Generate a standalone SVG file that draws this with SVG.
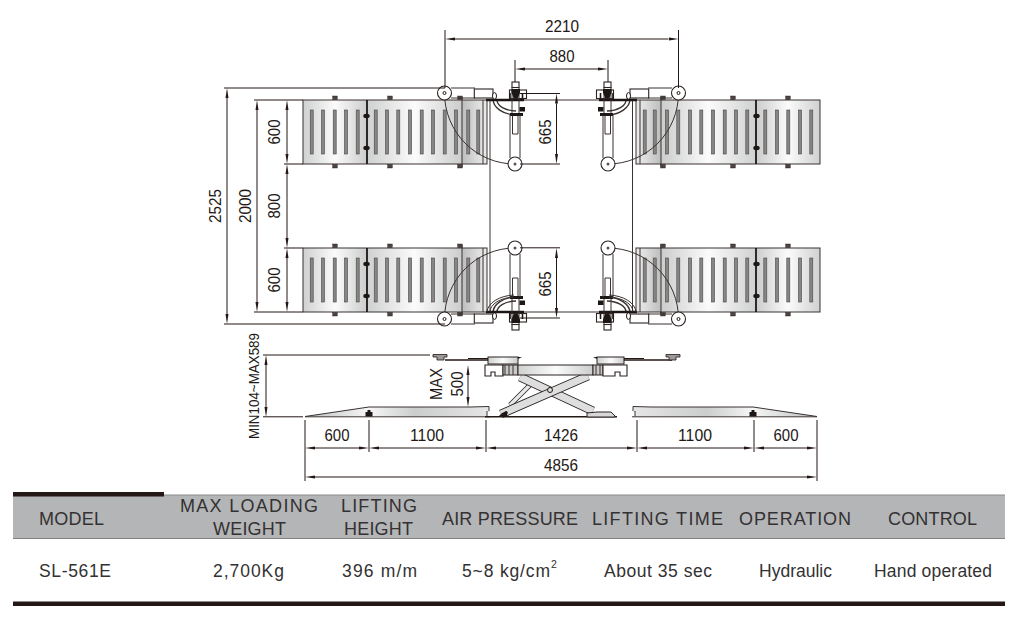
<svg xmlns="http://www.w3.org/2000/svg" width="1016" height="618" viewBox="0 0 1016 618">
<style>
.l{fill:none;stroke:#3a3230;stroke-width:1}
.d{fill:none;stroke:#231815;stroke-width:1}
.dim{fill:none;stroke:#231815;stroke-width:1;marker-start:url(#a);marker-end:url(#a)}
.ext{fill:none;stroke:#231815;stroke-width:1}
.slot{fill:#868686;stroke:#4a4442;stroke-width:.6}
.bolt{fill:#4a4442;stroke:#231815;stroke-width:.4}
.w{fill:#fff;stroke:#2a2422;stroke-width:1.1}
.k{fill:#1c1614;stroke:none}
text{font-family:"Liberation Sans",Arial,sans-serif;fill:#333132}
.n{font-size:17px;text-anchor:middle;fill:#231815}
.h{font-size:18px}
.b{font-size:17.5px}
.arm-o{fill:none;stroke:#2a2422;stroke-width:9}
.arm-i{fill:none;stroke:#dedede;stroke-width:7.2}
.cyl-o{fill:none;stroke:#2a2422;stroke-width:5}
.cyl-i{fill:none;stroke:#e8e8e8;stroke-width:3.4}
</style>
<defs>
<marker id="a" viewBox="0 0 10 4" refX="0" refY="2" markerWidth="10" markerHeight="4" markerUnits="userSpaceOnUse" orient="auto-start-reverse"><path d="M10 2L0 0.5V3.500Z" fill="#231815"/></marker>
<linearGradient id="g1"><stop offset="0" stop-color="#cfd0d0"/><stop offset=".5" stop-color="#fbfbfb"/><stop offset="1" stop-color="#cbcccc"/></linearGradient>
<linearGradient id="g2"><stop offset="0" stop-color="#bcbdbd"/><stop offset=".6" stop-color="#dcdcdc"/><stop offset="1" stop-color="#ececec"/></linearGradient>
<linearGradient id="g3"><stop offset="0" stop-color="#bfc0c0"/><stop offset=".35" stop-color="#f6f6f6"/><stop offset=".6" stop-color="#cbcccc"/><stop offset="1" stop-color="#e6e6e6"/></linearGradient>
<g id="platform">
<rect x="303" y="100" width="64" height="64" fill="url(#g1)"/>
<rect x="367" y="100" width="95" height="64" fill="url(#g1)"/>
<rect x="462" y="100" width="25" height="64" fill="url(#g2)"/>
<rect x="303" y="100" width="184" height="64" class="l"/>
<path class="l" d="M462 97V167M483 100V164"/>
<path d="M367 100V164" stroke="#1c1614" stroke-width="1.8" fill="none"/>
<ellipse cx="366.500" cy="116" rx="3.200" ry="2.200" class="k"/><ellipse cx="366.500" cy="148" rx="3.200" ry="2.200" class="k"/>
<g class="slot">
<rect x="310.200" y="110" width="3" height="44"/><rect x="321.500" y="110" width="3" height="44"/><rect x="333.200" y="110" width="3" height="44"/><rect x="344.500" y="110" width="3" height="44"/><rect x="356.200" y="110" width="3" height="44"/>
<rect x="374.200" y="110" width="3" height="44"/><rect x="385.500" y="110" width="3" height="44"/><rect x="396.800" y="110" width="3" height="44"/><rect x="408.500" y="110" width="3" height="44"/><rect x="420.200" y="110" width="3" height="44"/><rect x="431.500" y="110" width="3" height="44"/><rect x="443.200" y="110" width="3" height="44"/><rect x="454.500" y="110" width="3" height="44"/><rect x="466.800" y="110" width="3" height="44"/><rect x="476.800" y="110" width="3" height="44"/>
</g>
<g class="bolt">
<rect x="332.700" y="96" width="4.600" height="3.600"/><rect x="387.700" y="96" width="4.600" height="3.600"/><rect x="457.700" y="96" width="4.600" height="3.600"/>
<rect x="332.700" y="164.400" width="4.600" height="3.600"/><rect x="387.700" y="164.400" width="4.600" height="3.600"/><rect x="457.700" y="164.400" width="4.600" height="3.600"/>
</g>
</g>
<g id="head">
<path class="l" d="M451 88H475M451 98H475"/>
<rect x="474.300" y="89" width="18.700" height="9" class="w"/>
<path class="l" d="M444.500 93A70.500 71 0 0 0 515 164"/>
<circle cx="444.500" cy="93" r="7" class="w"/><circle cx="444.500" cy="93" r="1.500" fill="#fff" stroke="#231815"/>
<path class="l" style="stroke-width:1.400" d="M493 99A24 16 0 0 0 516 115M497 100A20 11 0 0 0 516 111"/>
<ellipse cx="494.500" cy="96" rx="2" ry="3.400" fill="#fff" stroke="#231815"/>
<path d="M486 100H524" stroke="#1c1614" stroke-width="2.600" fill="none"/>
<rect x="509.500" y="90" width="17" height="8.500" class="w"/>
<rect x="512" y="82" width="7" height="5.500" class="w"/>
<path class="l" d="M512 87V113M519 87V113"/>
<path class="k" d="M511.500 89H520V92.500L518 98H513.500L511.500 92.500Z"/>
<path d="M510 93V98M522.500 93V98" stroke="#1c1614" stroke-width="1.600" fill="none"/>
<path class="k" d="M510 113H523V116H510Z"/><rect x="519.500" y="107" width="5.500" height="4.500" class="k"/>
<path class="l" d="M510 115V158M520 115V158"/>
<path class="l" d="M512.500 116V134H518V116"/>
<circle cx="515" cy="164" r="7" class="w"/><circle cx="515" cy="164" r="1.500" fill="#555"/>
</g>
<g id="head-extra">
<path class="l" d="M490 100A26 15 0 0 0 514 115M487 100A29 18 0 0 0 514 117"/>
</g>
<g id="ramp">
<path d="M305 416.500L369 407H489V412H487V416.500Z" fill="url(#g3)"/>
<path class="l" d="M305 416.500L369 407H470M470 407L489 406.500V411M487 411V416.500M305 416.800H490"/>
<rect x="365.500" y="412" width="7" height="4.500" class="k"/><rect x="367.500" y="410" width="3" height="3" class="k"/>
</g>
</defs>

<g id="platform-top-left"><use href="#platform"/></g>
<g id="platform-top-right"><use href="#platform" transform="matrix(-1 0 0 1 1123 0)"/></g>
<g id="platform-bottom-left"><use href="#platform" transform="matrix(1 0 0 -1 0 412)"/></g>
<g id="platform-bottom-right"><use href="#platform" transform="matrix(-1 0 0 -1 1123 412)"/></g>

<g id="frame"><path class="l" d="M490 100H632M490 312H632M490 100V312M632.500 100V312"/></g>

<g id="arm-top-left"><use href="#head"/></g>
<g id="arm-top-right"><use href="#head" transform="matrix(-1 0 0 1 1123 0)"/></g>
<g id="arm-bottom-left"><use href="#head" transform="matrix(1 0 0 -1 0 412)"/><use href="#head-extra" transform="matrix(1 0 0 -1 0 412)"/></g>
<g id="arm-bottom-right"><use href="#head" transform="matrix(-1 0 0 -1 1123 412)"/><use href="#head-extra" transform="matrix(-1 0 0 -1 1123 412)"/></g>

<g id="ramp-left"><use href="#ramp"/></g>
<g id="ramp-right"><use href="#ramp" transform="matrix(-1 0 0 1 1122 0)"/></g>

<g id="lift-side">
<path class="d" style="stroke-width:1.400" d="M485 416.800H617"/>
<path class="cyl-o" d="M510 405L530 385"/><path class="cyl-i" d="M510 405L530 385"/>
<path class="arm-o" d="M520 377L593 411"/><path class="arm-i" d="M520 377L593 411"/>
<path class="arm-o" d="M501 414L588 376"/><path class="arm-i" d="M501 414L588 376"/>
<circle cx="550" cy="390" r="2.500" fill="#ddd" stroke="#231815"/>
<path d="M587 417V413L597 412H611L615 416V417Z" fill="#d8d8d8" stroke="#2a2422"/>
<circle cx="506" cy="413" r="1.800" class="k"/><path class="k" d="M498 417L502 413L507 411V417Z"/>
<path class="w" d="M485 365H503V376H495V372H491V376H485Z"/>
<rect x="503" y="365" width="15" height="10" fill="#c9c9c9" stroke="#2a2422"/>
<path class="l" d="M505 365V375M509 365V375M513 365V375"/>
<rect x="518" y="365" width="75" height="10" fill="url(#g1)" stroke="#2a2422"/>
<rect x="593" y="365" width="10" height="10" fill="#c9c9c9" stroke="#2a2422"/>
<path class="l" d="M596 365V375M600 365V375"/>
<path class="w" d="M603 365H627V376H620V372H615V376H603Z"/>
<rect x="488" y="357" width="30" height="7" fill="url(#g1)" stroke="#2a2422"/>
<rect x="597" y="357" width="27" height="7" fill="url(#g1)" stroke="#2a2422"/>
<path d="M518 357H522L518 359Z" class="k"/><path d="M597 357H593L597 359Z" class="k"/>
<path class="d" style="stroke-width:1.400" d="M445 360H488M624 360H672"/>
<path d="M468 358.500H488M624 358.500H644" stroke="#231815" stroke-width="1.200" fill="none"/>
<path d="M433 354.500H447V357H444V360H437V357H433Z" fill="#9a9a9a" stroke="#231815" stroke-width=".8"/>
<path d="M666 354.500H680V357H676V360H669V357H666Z" fill="#9a9a9a" stroke="#231815" stroke-width=".8"/>
</g>

<g id="connectors">
<path class="ext" d="M445 30V88M678.500 30V88M515 60V82M608 60V82"/>
<path class="dim" d="M455 39H668.500"/>
<path class="dim" d="M525 69H598"/>
<path class="ext" d="M224 88H445M224 324H445M254 100H303M254 312H303M284 164H303M284 248H303"/>
<path class="dim" d="M227 98V314"/>
<path class="dim" d="M257 110V302"/>
<path class="dim" d="M287 110V154"/>
<path class="dim" d="M287 174V238"/>
<path class="dim" d="M287 258V302"/>
<path class="ext" d="M520 93.500H560M520 164H560M520 247.800H560M520 318H560"/>
<path class="dim" d="M556.500 103.500V154"/>
<path class="dim" d="M556.500 258V308"/>
<path class="ext" d="M263 355H430M263 416.800H303"/>
<path class="dim" d="M266 365V407"/>
<path class="dim" d="M468 375V397"/>
<path class="ext" d="M305 420V481M369 420V452M486 420V452M637 420V452M754 420V452M817 420V481"/>
<path class="dim" d="M315 448H359"/>
<path class="dim" d="M379 448H476"/>
<path class="dim" d="M496 448H627"/>
<path class="dim" d="M647 448H744"/>
<path class="dim" d="M764 448H807"/>
<path class="dim" d="M315 477H807"/>
</g>

<g id="dimension-labels">
<text class="n" x="562" y="32" textLength="34" lengthAdjust="spacingAndGlyphs">2210</text>
<text class="n" x="562" y="62" textLength="25" lengthAdjust="spacingAndGlyphs">880</text>
<text class="n" transform="translate(220.500 206) rotate(-90)" textLength="34" lengthAdjust="spacingAndGlyphs">2525</text>
<text class="n" transform="translate(250.500 206) rotate(-90)" textLength="34" lengthAdjust="spacingAndGlyphs">2000</text>
<text class="n" transform="translate(280 132) rotate(-90)" textLength="25" lengthAdjust="spacingAndGlyphs">600</text>
<text class="n" transform="translate(280 206) rotate(-90)" textLength="25" lengthAdjust="spacingAndGlyphs">800</text>
<text class="n" transform="translate(280 280) rotate(-90)" textLength="25" lengthAdjust="spacingAndGlyphs">600</text>
<text class="n" transform="translate(550.500 132) rotate(-90)" textLength="25" lengthAdjust="spacingAndGlyphs">665</text>
<text class="n" transform="translate(550.500 284) rotate(-90)" textLength="25" lengthAdjust="spacingAndGlyphs">665</text>
<text class="n" style="font-size:14px" transform="translate(259 386) rotate(-90)" textLength="106" lengthAdjust="spacingAndGlyphs">MIN104~MAX589</text>
<text class="n" transform="translate(441.500 384) rotate(-90)" textLength="32" lengthAdjust="spacingAndGlyphs">MAX</text>
<text class="n" transform="translate(462.500 384) rotate(-90)" textLength="25" lengthAdjust="spacingAndGlyphs">500</text>
<text class="n" x="337" y="441" textLength="25" lengthAdjust="spacingAndGlyphs">600</text>
<text class="n" x="427" y="441" textLength="34" lengthAdjust="spacingAndGlyphs">1100</text>
<text class="n" x="561" y="441" textLength="34" lengthAdjust="spacingAndGlyphs">1426</text>
<text class="n" x="695" y="441" textLength="34" lengthAdjust="spacingAndGlyphs">1100</text>
<text class="n" x="786" y="441" textLength="25" lengthAdjust="spacingAndGlyphs">600</text>
<text class="n" x="561" y="471" textLength="34" lengthAdjust="spacingAndGlyphs">4856</text>
</g>

<g id="spec-table">
<rect x="13" y="495" width="992" height="43" fill="#b4b5b7"/>
<path d="M13 495H1005" stroke="#8a8b8d" stroke-width="1.200"/>
<path d="M13 538.500H1005" stroke="#808183" stroke-width="1.200"/>
<rect x="13" y="492" width="151" height="4.500" fill="#231815"/>
<rect x="13" y="601.500" width="992" height="4.500" fill="#231815"/>
<g class="h">
<text x="39" y="525" textLength="65">MODEL</text>
<text x="180" y="512" textLength="138">MAX LOADING</text>
<text x="213" y="535" textLength="73">WEIGHT</text>
<text x="341" y="512" textLength="76">LIFTING</text>
<text x="344" y="535" textLength="69">HEIGHT</text>
<text x="442" y="525" textLength="136">AIR PRESSURE</text>
<text x="592" y="525" textLength="131">LIFTING TIME</text>
<text x="739" y="525" textLength="112">OPERATION</text>
<text x="888" y="525" textLength="89">CONTROL</text>
</g>
<g class="b">
<text x="39" y="577" textLength="72">SL-561E</text>
<text x="213" y="577" textLength="71">2,700Kg</text>
<text x="342" y="577" textLength="75">396 m/m</text>
<text x="462" y="577" textLength="88">5~8 kg/cm</text>
<text x="551" y="568" style="font-size:10.500px">2</text>
<text x="604" y="577" textLength="108">About 35 sec</text>
<text x="759" y="577" textLength="73">Hydraulic</text>
<text x="874" y="577" textLength="118">Hand operated</text>
</g>
</g>
</svg>
